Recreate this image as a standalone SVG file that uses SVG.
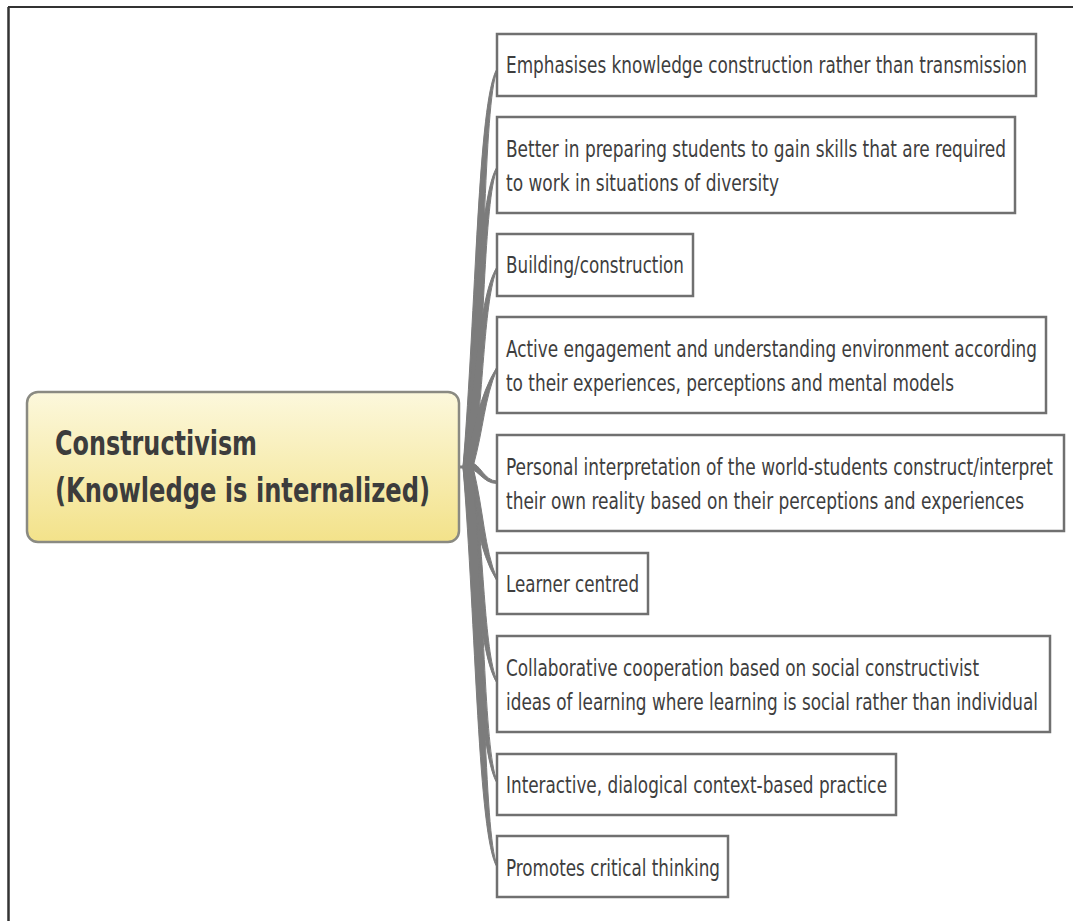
<svg xmlns="http://www.w3.org/2000/svg" width="1073" height="921" viewBox="0 0 1073 921">
<style>
.box{fill:#ffffff;stroke:#707070;stroke-width:2.5}
.t{font-family:"DejaVu Sans Condensed","DejaVu Sans","Liberation Sans Narrow",sans-serif;font-size:23px;fill:#3e3e3e}
.ct{font-family:"DejaVu Sans Condensed","DejaVu Sans","Liberation Sans",sans-serif;font-size:34px;font-weight:bold;fill:#3c3c3c}
.br{fill:#7c7c7c;stroke:#7c7c7c;stroke-width:1;stroke-linejoin:round}
</style>
<defs>
<linearGradient id="cg" x1="0" y1="0" x2="0" y2="1">
<stop offset="0" stop-color="#fcf8dc"/>
<stop offset="1" stop-color="#f3e28a"/>
</linearGradient>
</defs>
<rect x="0" y="0" width="1073" height="921" fill="#ffffff"/>
<g id="frame">
<line x1="8" y1="7" x2="1073" y2="7" stroke="#333" stroke-width="2"/>
<line x1="8.5" y1="7" x2="8.5" y2="921" stroke="#333" stroke-width="2.5"/>
</g>
<g id="connectors">
<line x1="458" y1="467" x2="470" y2="467" stroke="#7c7c7c" stroke-width="3"/>
<path class="br" d="M463 467 C476 308 478 100 497 68.8 L497 71.2 C484 102 484 308 473 467 Z"/>
<path class="br" d="M463 467 C476 347 478 198 497 166.8 L497 169.2 C484 200 484 347 473 467 Z"/>
<path class="br" d="M463 467 C476 387 478 298 497 266.8 L497 269.2 C484 300 484 387 473 467 Z"/>
<path class="br" d="M463 467 C476 427 478 398 497 366.8 L497 369.2 C484 400 484 427 473 467 Z"/>
<path class="br" d="M464 467 C478 467 482 483.5 497 483.5 L497 481 C484 481 480 463 471 463 Z"/>
<path class="br" d="M463 467 C476 512 478 550 497 581.2 L497 578.8 C484 548 484 512 473 467 Z"/>
<path class="br" d="M463 467 C476 553 478 652 497 683.2 L497 680.8 C484 650 484 553 473 467 Z"/>
<path class="br" d="M463 467 C476 593 478 752 497 783.2 L497 780.8 C484 750 484 593 473 467 Z"/>
<path class="br" d="M463 467 C476 627 478 836 497 867.2 L497 864.8 C484 834 484 627 473 467 Z"/>
</g>
<g id="root">
<rect x="27" y="392" width="432" height="150" rx="11" fill="url(#cg)" stroke="#8a8a82" stroke-width="2.5"/>
<text class="ct" x="55" y="455" textLength="202" lengthAdjust="spacingAndGlyphs">Constructivism</text>
<text class="ct" x="55" y="502" textLength="375" lengthAdjust="spacingAndGlyphs">(Knowledge is internalized)</text>
</g>
<g id="n1">
<rect class="box" x="497" y="34" width="539" height="62"/>
<text class="t" x="506" y="73" textLength="521" lengthAdjust="spacingAndGlyphs">Emphasises knowledge construction rather than transmission</text>
</g>
<g id="n2">
<rect class="box" x="497" y="117" width="518" height="96"/>
<text class="t" x="506" y="157" textLength="500" lengthAdjust="spacingAndGlyphs">Better in preparing students to gain skills that are required</text>
<text class="t" x="506" y="191" textLength="273" lengthAdjust="spacingAndGlyphs">to work in situations of diversity</text>
</g>
<g id="n3">
<rect class="box" x="497" y="234" width="196" height="62"/>
<text class="t" x="506" y="273" textLength="178" lengthAdjust="spacingAndGlyphs">Building/construction</text>
</g>
<g id="n4">
<rect class="box" x="497" y="317" width="549" height="96"/>
<text class="t" x="506" y="357" textLength="531" lengthAdjust="spacingAndGlyphs">Active engagement and understanding environment according</text>
<text class="t" x="506" y="391" textLength="448" lengthAdjust="spacingAndGlyphs">to their experiences, perceptions and mental models</text>
</g>
<g id="n5">
<rect class="box" x="497" y="435" width="567" height="96"/>
<text class="t" x="506" y="475" textLength="547" lengthAdjust="spacingAndGlyphs">Personal interpretation of the world-students construct/interpret</text>
<text class="t" x="506" y="509" textLength="518" lengthAdjust="spacingAndGlyphs">their own reality based on their perceptions and experiences</text>
</g>
<g id="n6">
<rect class="box" x="497" y="553" width="151" height="61"/>
<text class="t" x="506" y="592" textLength="133" lengthAdjust="spacingAndGlyphs">Learner centred</text>
</g>
<g id="n7">
<rect class="box" x="497" y="636" width="553" height="96"/>
<text class="t" x="506" y="676" textLength="473" lengthAdjust="spacingAndGlyphs">Collaborative cooperation based on social constructivist</text>
<text class="t" x="506" y="710" textLength="532" lengthAdjust="spacingAndGlyphs">ideas of learning where learning is social rather than individual</text>
</g>
<g id="n8">
<rect class="box" x="497" y="754" width="399" height="61"/>
<text class="t" x="506" y="793" textLength="381" lengthAdjust="spacingAndGlyphs">Interactive, dialogical context-based practice</text>
</g>
<g id="n9">
<rect class="box" x="497" y="836" width="231" height="61"/>
<text class="t" x="506" y="876" textLength="214" lengthAdjust="spacingAndGlyphs">Promotes critical thinking</text>
</g>
</svg>
